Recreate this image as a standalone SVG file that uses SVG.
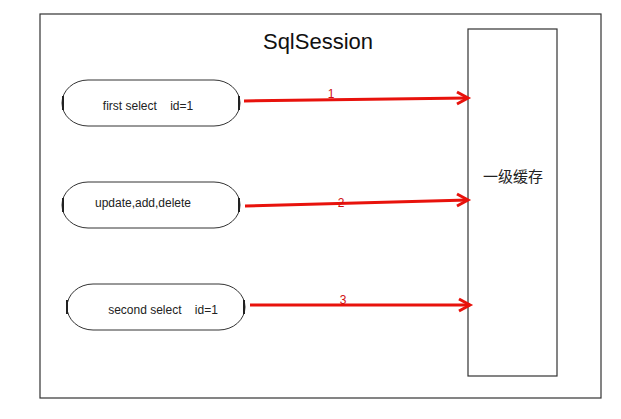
<svg xmlns="http://www.w3.org/2000/svg" width="621" height="419" viewBox="0 0 621 419">
<style>
.frame{fill:#fff;stroke:#333;stroke-width:1.2}
.pill{fill:#fff;stroke:#333;stroke-width:1}
.tick{stroke:#222;stroke-width:2}
.lbl{font-family:"Liberation Sans",Arial,sans-serif;font-size:12px;fill:#222;white-space:pre}
.conn{stroke:#e8120c;stroke-width:3;fill:none}
.num{font-family:"Liberation Sans",Arial,sans-serif;font-size:12px;fill:#d01010}
</style>
<rect x="0" y="0" width="621" height="419" fill="#fff"/>
<rect class="frame" x="40" y="14" width="561" height="384"/>
<text x="318" y="49" text-anchor="middle" font-family="Liberation Sans,Arial,sans-serif" font-size="22" fill="#111">SqlSession</text>
<g id="cache">
<rect class="frame" x="468" y="29" width="89" height="347"/>
<text x="513" y="182" text-anchor="middle" font-family="Liberation Sans,'Noto Sans CJK SC',sans-serif" font-size="15" fill="#222">一级缓存</text>
</g>
<g id="n1">
<path class="pill" d="M88,80 H214 A26,23 0 0 1 214,126 H88 A26,23 0 0 1 88,80 Z"/>
<line class="tick" x1="63" y1="96" x2="63" y2="110"/>
<line class="tick" x1="239" y1="96" x2="239" y2="110"/>
<text class="lbl" x="148" y="110" text-anchor="middle" xml:space="preserve">first select    id=1</text>
</g>
<g id="n2">
<path class="pill" d="M88,182 H214 A26,23 0 0 1 214,228 H88 A26,23 0 0 1 88,182 Z"/>
<line class="tick" x1="63" y1="198" x2="63" y2="212"/>
<line class="tick" x1="239" y1="198" x2="239" y2="212"/>
<text class="lbl" x="143" y="207" text-anchor="middle">update,add,delete</text>
</g>
<g id="n3">
<path class="pill" d="M93,284 H219 A26,23 0 0 1 219,330 H93 A26,23 0 0 1 93,284 Z"/>
<line class="tick" x1="67" y1="300" x2="67" y2="314"/>
<line class="tick" x1="244" y1="300" x2="244" y2="314"/>
<text class="lbl" x="163" y="314" text-anchor="middle" xml:space="preserve">second select    id=1</text>
</g>
<g id="connectors">
<line class="conn" x1="244" y1="101" x2="468" y2="98"/>
<path class="conn" d="M457,92 L468,98 L457,104"/>
<text class="num" x="331" y="98" text-anchor="middle">1</text>
<line class="conn" x1="245" y1="206" x2="468" y2="200"/>
<path class="conn" d="M457,194 L468,200 L457,206"/>
<text class="num" x="341" y="207" text-anchor="middle">2</text>
<line class="conn" x1="250" y1="305" x2="470" y2="305"/>
<path class="conn" d="M459,299 L470,305 L459,311"/>
<text class="num" x="343" y="304" text-anchor="middle">3</text>
</g>
</svg>
